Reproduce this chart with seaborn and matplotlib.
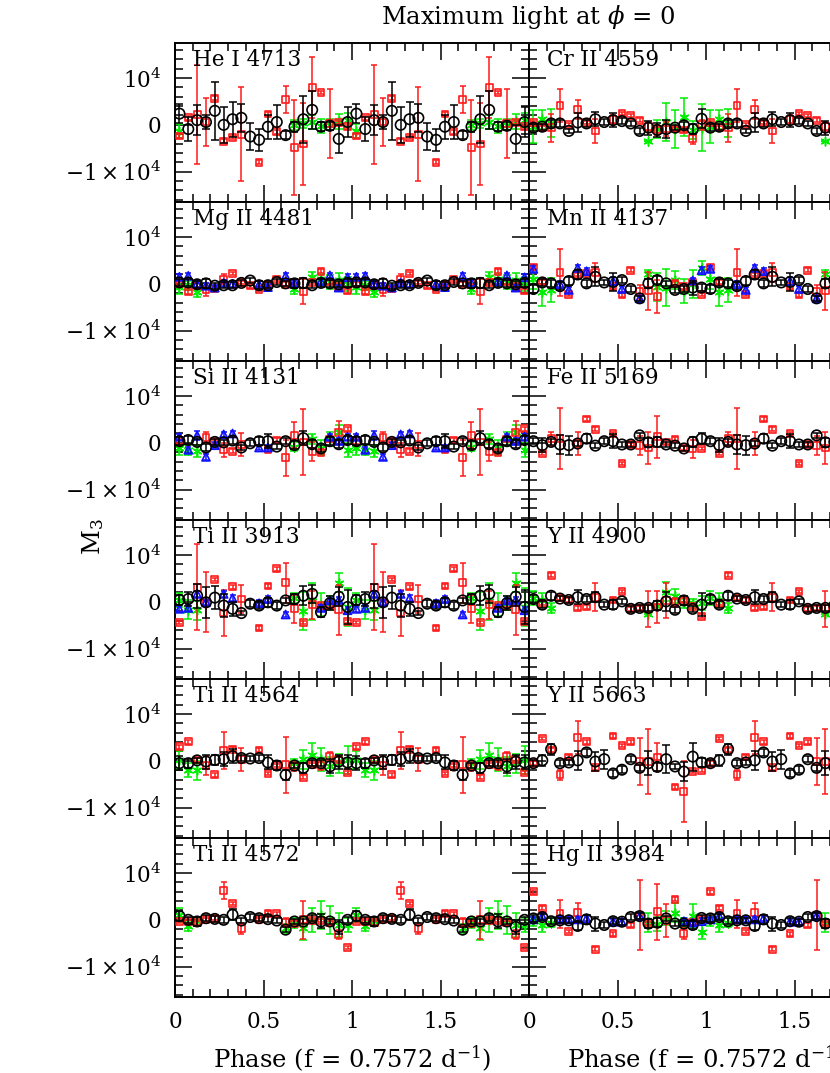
import numpy as np
import pandas as pd
import matplotlib
matplotlib.use("Agg")
import matplotlib.pyplot as plt
from matplotlib.ticker import MultipleLocator, FixedLocator, FuncFormatter
import seaborn as sns

nan = np.nan

# one phase cycle in 20 bins; the figure repeats it over 0..2
PHASE_BINS = np.arange(20) * 0.05 + 0.025
UNIT = 1000.0

# ---- He I 4713
HEI_BLACK = [2.4, -0.9, 1.0, 0.6, 3.0, 0.0, 1.2, 1.5, -2.5, -3.2, -0.4, 0.6, -2.2, -0.4, 1.2, 3.2, -0.4, -0.2, -3.0, 0.6]
HEI_BLACK_ERR = [2.0, 2.5, 3.2, 1.5, 6.2, 3.9, 3.7, 3.0, 2.8, 2.4, 2.6, 3.6, 0.8, 1.1, 5.0, 4.0, 1.0, 0.9, 3.0, 3.2]
HEI_RED = [-2.4, 1.5, 2.2, 0.6, 5.7, -3.5, -2.7, -2.0, nan, -8.0, 2.3, -1.5, 5.4, -4.9, -4.1, 8.0, 6.9, 0.3, 0.5, -0.4]
HEI_RED_ERR = [0.4, 0.4, 10.5, 5.2, 0.4, 0.4, 0.4, 10.0, nan, 0.4, 0.4, 0.4, 2.8, 10.2, 8.7, 6.5, 0.4, 7.3, 0.4, 0.4]
HEI_GREEN = [-1.3, nan, nan, nan, nan, nan, nan, nan, nan, nan, nan, nan, nan, 0.0, 0.3, 0.6, -0.2, 0.0, 0.8, 1.0]
HEI_GREEN_ERR = [1.5, nan, nan, nan, nan, nan, nan, nan, nan, nan, nan, nan, nan, 1.0, 1.0, 1.5, 1.5, 1.2, 1.6, 1.5]

# ---- Cr II 4559
CRII_BLACK = [-0.6, -0.4, 0.3, 0.3, -1.3, 0.5, 0.3, 1.2, 0.6, 1.0, 0.8, 0.3, -1.3, -0.6, -1.1, -0.9, -0.6, -0.1, -0.9, 1.3]
CRII_BLACK_ERR = [0.8, 0.6, 0.8, 0.8, 0.5, 2.0, 0.8, 1.5, 0.6, 1.5, 0.6, 0.6, 0.6, 1.5, 1.5, 2.0, 0.6, 0.8, 1.0, 2.0]
CRII_RED = [0.5, -0.6, -0.6, 4.2, 0.1, 3.3, 0.5, -1.3, nan, 1.2, 2.4, 2.0, 1.0, -0.4, -1.1, -0.9, -0.9, -1.1, -3.0, 0.0]
CRII_RED_ERR = [0.4, 0.4, 3.0, 3.5, 0.4, 2.0, 0.4, 2.5, nan, 1.0, 0.4, 0.4, 0.4, 1.0, 1.0, 1.5, 0.4, 0.4, 1.0, 1.0]
CRII_GREEN = [-0.4, 1.2, 0.3, nan, nan, nan, nan, nan, nan, nan, nan, nan, nan, -3.5, -0.9, 0.6, -0.9, 1.7, -1.1, -0.6]
CRII_GREEN_ERR = [3.5, 2.0, 3.0, nan, nan, nan, nan, nan, nan, nan, nan, nan, nan, 0.0, 2.0, 4.0, 4.0, 4.0, 2.0, 5.0]

# ---- Mg II 4481
MGII_BLACK = [0.3, 0.3, -0.1, 0.1, -0.4, -0.3, -0.3, 0.2, 0.7, -0.3, -0.3, 0.4, 0.1, 0.1, 0.2, -0.3, 0.2, 0.1, -0.1, 0.2]
MGII_BLACK_ERR = [0.8, 0.8, 0.8, 1.0, 0.6, 0.6, 0.6, 0.6, 0.6, 0.8, 0.6, 0.6, 0.6, 1.0, 1.0, 0.6, 0.8, 0.8, 0.6, 0.8]
MGII_RED = [0.0, -1.7, -0.3, -1.3, -1.1, 1.0, 2.2, 0.3, -0.4, -1.2, -0.1, 1.0, -0.1, 0.4, -1.6, 0.3, 2.7, 0.4, -0.6, -1.5]
MGII_RED_ERR = [0.4, 0.4, 0.4, 1.4, 0.4, 1.0, 0.4, 0.4, 0.4, 0.4, 0.4, 0.4, 0.4, 0.4, 2.7, 0.4, 0.4, 0.4, 0.4, 0.4]
MGII_BLUE = [1.5, 1.7, 0.0, -0.4, -0.8, 0.2, 0.0, nan, nan, -0.1, -0.7, nan, 1.7, 0.2, nan, nan, 0.5, 1.8, -0.8, 1.4]
MGII_BLUE_ERR = [0.6, 0.6, 0.6, 0.6, 0.6, 0.6, 0.6, nan, nan, 0.6, 0.6, nan, 0.6, 0.6, nan, nan, 0.6, 0.6, 0.6, 0.6]
MGII_GREEN = [-0.6, -0.3, -1.8, nan, nan, nan, nan, nan, nan, nan, nan, nan, nan, -1.0, nan, 1.5, 1.0, 0.4, 0.8, -0.1]
MGII_GREEN_ERR = [1.5, 1.0, 1.0, nan, nan, nan, nan, nan, nan, nan, nan, nan, nan, 1.2, nan, 1.0, 1.2, 1.5, 1.5, 1.5]

# ---- Mn II 4137
MNII_BLACK = [-1.1, 0.3, 0.1, -0.5, 0.6, 2.0, 0.1, 1.5, 0.3, 0.4, 0.8, -1.1, -3.1, 0.1, 0.8, 0.1, -1.3, -1.1, -0.8, -0.8]
MNII_BLACK_ERR = [0.8, 0.8, 0.8, 0.8, 0.8, 1.0, 0.8, 2.0, 0.6, 2.0, 0.6, 0.6, 0.6, 1.0, 0.8, 0.6, 0.6, 0.6, 1.5, 0.8]
MNII_RED = [3.6, 0.4, nan, 2.4, -2.3, 2.0, 2.2, 2.4, nan, -0.6, -2.4, 2.9, -1.7, -1.5, -2.7, nan, 0.1, -0.6, 0.4, -2.3]
MNII_RED_ERR = [0.4, 0.4, nan, 5.0, 0.4, 0.4, 0.4, 2.0, nan, 0.4, 0.4, 0.4, 1.5, 4.0, 3.5, nan, 0.4, 0.4, 0.4, 0.4]
MNII_BLUE = [3.2, nan, nan, -0.1, -1.3, 3.4, 2.7, nan, nan, 0.6, -1.1, nan, -3.1, nan, nan, nan, nan, nan, 0.7, 2.9]
MNII_BLUE_ERR = [0.6, nan, nan, 0.6, 0.6, 0.6, 0.6, nan, nan, 0.8, 0.6, nan, 0.6, nan, nan, nan, nan, nan, 0.6, 0.6]
MNII_GREEN = [1.0, -1.8, -1.3, nan, nan, nan, nan, nan, nan, nan, nan, nan, nan, 2.0, -0.6, -0.8, 0.8, -1.5, -0.1, 3.4]
MNII_GREEN_ERR = [2.0, 3.0, 2.5, nan, nan, nan, nan, nan, nan, nan, nan, nan, nan, 1.0, 3.0, 4.0, 2.0, 2.5, 3.0, 1.5]

# ---- Si II 4131
SIII_BLACK = [0.35, 0.6, 0.2, -1.0, 0.2, 0.1, 0.5, -1.0, -0.1, 0.35, 0.35, -0.8, 0.35, -0.5, 1.0, -0.3, -1.2, 0.35, -0.3, 0.6]
SIII_BLACK_ERR = [0.8, 0.8, 0.6, 0.8, 0.6, 0.6, 0.8, 0.6, 0.6, 0.8, 1.5, 0.6, 0.6, 0.8, 1.5, 0.8, 0.8, 0.8, 0.8, 0.8]
SIII_RED = [0.2, nan, nan, 1.2, 0.3, -1.5, -1.8, -0.4, nan, nan, -1.5, 0.6, -3.2, 1.6, 0.2, -1.9, -2.0, 0.8, 2.2, 3.0]
SIII_RED_ERR = [0.4, nan, nan, 1.2, 0.4, 1.5, 0.4, 2.5, nan, nan, 0.4, 0.4, 3.8, 2.8, 7.0, 2.0, 0.4, 0.4, 2.5, 0.4]
SIII_BLUE = [1.3, -1.5, 1.6, -3.0, -0.5, 1.8, 2.0, nan, nan, -1.0, -1.0, nan, nan, nan, nan, nan, nan, 1.3, 0.4, 1.3]
SIII_BLUE_ERR = [0.6, 0.6, 1.0, 0.6, 0.6, 0.6, 0.6, nan, nan, 0.6, 0.6, nan, nan, nan, nan, nan, nan, 0.6, 0.6, 0.6]
SIII_GREEN = [-1.0, -1.5, -1.8, nan, nan, nan, nan, nan, nan, nan, nan, nan, nan, -0.8, nan, 0.8, -1.0, 0.8, 2.3, -1.5]
SIII_GREEN_ERR = [1.5, 1.0, 1.3, nan, nan, nan, nan, nan, nan, nan, nan, nan, nan, 1.0, nan, 1.0, 1.5, 1.5, 1.5, 1.5]

# ---- Fe II 5169
FEII_BLACK = [0.35, -0.5, 0.2, -0.35, -0.5, -0.15, 0.9, -0.6, 0.35, 0.35, -0.35, -0.35, 1.6, 0.1, 0.2, -0.35, -0.6, -1.2, 0.2, 0.9]
FEII_BLACK_ERR = [0.6, 1.5, 0.6, 2.0, 2.0, 0.6, 1.0, 0.6, 0.6, 1.5, 0.6, 0.6, 0.6, 1.0, 1.0, 0.6, 0.6, 0.6, 1.0, 1.2]
FEII_RED = [nan, -2.3, 0.9, 0.9, nan, -0.1, 5.1, 2.9, nan, 2.0, -4.4, -0.35, -0.6, -1.1, 1.3, 0.2, 0.8, -1.1, -1.3, -1.2]
FEII_RED_ERR = [nan, 0.4, 1.5, 6.5, nan, 2.5, 0.4, 0.4, nan, 0.4, 0.4, 0.4, 2.0, 3.5, 4.5, 0.4, 0.4, 0.4, 2.0, 0.4]

# ---- Ti II 3913
TI3913_BLACK = [0.4, 0.6, 1.3, -0.1, 0.9, -0.8, -1.5, -2.4, -0.4, -0.8, -0.1, -0.8, 0.3, 0.6, 1.3, 1.7, -2.2, -0.3, 1.1, -1.1]
TI3913_BLACK_ERR = [1.0, 1.5, 2.6, 3.3, 2.4, 2.5, 1.5, 0.5, 0.8, 0.8, 1.0, 0.8, 0.6, 1.0, 2.0, 2.0, 1.0, 1.5, 2.0, 3.6]
TI3913_RED = [-4.4, nan, 3.1, -0.1, 4.8, -2.4, 3.2, 0.6, nan, -5.6, 3.4, 7.1, 4.1, -1.5, -4.4, -0.6, -0.8, -0.8, -1.7, -4.2]
TI3913_RED_ERR = [0.4, nan, 9.2, 6.4, 0.4, 5.0, 0.4, 3.0, nan, 0.4, 0.4, 0.4, 4.3, 3.0, 0.4, 3.0, 0.4, 0.4, 5.3, 0.4]
TI3913_BLUE = [-1.5, -1.3, 1.7, -0.1, nan, 1.7, 0.8, nan, nan, -0.3, 0.6, nan, -2.7, nan, nan, nan, -1.3, 0.3, 0.4, -1.8]
TI3913_BLUE_ERR = [0.6, 0.6, 0.6, 0.6, nan, 0.6, 0.6, nan, nan, 0.6, 0.6, nan, 0.6, nan, nan, nan, 0.6, 0.6, 0.6, 0.6]
TI3913_GREEN = [0.4, -1.7, -1.8, nan, nan, nan, nan, nan, nan, nan, nan, nan, nan, 0.8, -2.0, 0.1, -0.6, -0.3, 4.1, -1.1]
TI3913_GREEN_ERR = [1.5, 2.0, 2.0, nan, nan, nan, nan, nan, nan, nan, nan, nan, nan, 1.0, 4.0, 4.0, 2.5, 1.5, 2.0, 4.0]

# ---- Y II 4900
Y4900_BLACK = [0.6, -0.6, 1.3, 0.7, 0.4, 1.0, 0.6, 1.0, -0.6, -0.6, 0.1, -1.5, -1.3, -1.3, -0.8, 0.1, -1.7, 0.3, -1.5, -0.6]
Y4900_BLACK_ERR = [0.8, 0.8, 0.8, 0.6, 0.6, 1.5, 0.6, 1.0, 0.6, 1.0, 0.6, 0.6, 0.6, 0.6, 1.0, 2.0, 0.6, 1.0, 0.6, 2.5]
Y4900_RED = [nan, -0.3, 5.7, 0.8, 0.4, -1.3, -1.1, 1.0, nan, 0.4, 2.2, -1.5, -1.3, -1.5, -1.1, 0.3, -0.1, 0.4, -1.0, -3.1]
Y4900_RED_ERR = [nan, 0.4, 0.4, 0.4, 0.4, 0.4, 0.4, 3.0, nan, 0.4, 0.4, 0.4, 0.4, 3.8, 3.5, 3.8, 1.0, 0.4, 0.4, 0.4]
Y4900_GREEN = [0.8, 0.4, -1.3, nan, nan, nan, nan, nan, nan, nan, nan, nan, nan, -2.7, -0.8, 2.2, 1.3, -0.3, -0.3, -0.3]
Y4900_GREEN_ERR = [1.5, 1.5, 1.0, nan, nan, nan, nan, nan, nan, nan, nan, nan, nan, 0.0, 1.0, 2.0, 1.5, 1.0, 1.0, 1.5]

# ---- Ti II 4564
TI4564_BLACK = [-0.5, -0.5, 0.1, -0.15, 0.2, 0.35, 1.0, 0.6, 0.5, 0.6, -0.35, -1.0, -3.0, -1.0, -1.5, -0.5, -0.5, -1.2, -0.15, -0.35]
TI4564_BLACK_ERR = [1.5, 1.0, 0.6, 1.5, 1.0, 1.5, 1.5, 0.6, 0.6, 0.6, 1.5, 1.0, 1.0, 0.6, 1.0, 0.6, 0.6, 1.5, 1.5, 1.5]
TI4564_RED = [3.0, 4.1, 0.2, -1.0, -3.0, 2.2, 2.5, 0.35, nan, 2.3, -2.7, -1.0, -0.8, -1.2, -3.5, -0.8, -1.0, 0.9, 0.35, -2.5]
TI4564_RED_ERR = [0.4, 0.4, 0.4, 2.0, 0.4, 4.0, 0.4, 2.5, nan, 0.4, 0.4, 0.4, 6.0, 1.0, 0.4, 0.4, 1.0, 1.0, 0.4, 0.4]
TI4564_GREEN = [0.2, -2.0, -2.0, nan, nan, nan, nan, nan, nan, nan, nan, nan, nan, -0.5, 0.35, 1.3, 0.35, -1.2, -0.5, 0.2]
TI4564_GREEN_ERR = [2.0, 1.5, 2.0, nan, nan, nan, nan, nan, nan, nan, nan, nan, nan, 1.0, 2.0, 2.5, 2.5, 2.0, 2.0, 3.0]

# ---- Y II 5663
Y5663_BLACK = [-0.5, 0.1, 2.5, -0.5, -0.35, 0.1, 1.8, -0.15, 0.35, -2.7, -1.9, 0.35, -1.5, -0.5, -1.3, 0.35, -1.2, -2.3, 0.9, -0.35]
Y5663_BLACK_ERR = [0.6, 1.2, 1.2, 0.6, 0.6, 2.0, 0.8, 2.0, 2.0, 0.8, 0.8, 0.6, 0.6, 2.5, 0.8, 3.0, 0.6, 2.0, 3.0, 1.0]
Y5663_RED = [-0.5, 4.8, 2.3, -3.0, 0.8, 5.0, 4.1, -1.5, nan, 5.3, 3.3, 4.1, -0.1, -0.1, 0.8, nan, -5.6, -6.5, -2.3, -2.0]
Y5663_RED_ERR = [0.4, 0.4, 0.4, 1.0, 0.4, 3.6, 0.4, 0.4, nan, 0.4, 0.4, 0.4, 5.0, 7.0, 3.0, nan, 0.4, 6.5, 0.4, 0.4]

# ---- Ti II 4572
TI4572_BLACK = [0.8, 0.0, -0.35, 0.35, 0.2, 0.0, 1.1, -0.15, 0.6, 0.35, 0.15, -0.15, -2.1, -0.35, -0.35, 0.35, -0.35, -0.35, -1.5, 0.0]
TI4572_BLACK_ERR = [1.0, 0.6, 1.0, 0.6, 0.6, 0.6, 1.2, 0.6, 0.6, 0.6, 0.6, 0.6, 0.6, 0.6, 0.6, 0.6, 1.5, 0.6, 1.5, 0.6]
TI4572_RED = [-0.35, -0.35, -0.6, 0.0, 0.35, 6.2, 3.5, -1.8, nan, 0.0, 1.4, 1.3, -0.6, -0.7, 0.0, -0.15, -0.15, -0.6, -3.2, -5.9]
TI4572_RED_ERR = [0.4, 0.4, 0.4, 0.4, 0.4, 1.8, 0.4, 1.2, nan, 0.4, 0.4, 0.4, 1.0, 0.4, 4.0, 0.4, 0.4, 0.4, 1.0, 0.4]
TI4572_GREEN = [1.1, -1.4, -0.35, nan, nan, nan, nan, nan, nan, nan, nan, nan, -1.8, -0.7, -1.8, 0.0, 1.1, 0.0, -1.1, -1.1]
TI4572_GREEN_ERR = [1.5, 1.0, 0.8, nan, nan, nan, nan, nan, nan, nan, nan, nan, 1.0, 1.0, 2.5, 2.5, 3.0, 3.0, 2.5, 1.5]

# ---- Hg II 3984
HGII_BLACK = [0.3, 0.6, -0.3, -0.1, -0.1, -1.3, 0.1, -0.8, -1.1, -0.3, -0.4, 0.6, 0.8, -0.8, -0.6, 0.3, -0.8, -0.8, -1.1, 0.4]
HGII_BLACK_ERR = [0.8, 0.6, 0.6, 0.6, 0.6, 0.8, 1.0, 1.5, 0.6, 0.6, 0.6, 0.6, 0.6, 1.0, 1.0, 0.6, 0.6, 0.6, 0.8, 0.6]
HGII_RED = [6.0, 2.5, nan, 1.3, -2.5, 1.5, nan, -6.3, nan, -3.0, nan, -1.1, 1.0, -0.8, 1.7, -0.1, 4.4, -3.0, -0.6, 0.1]
HGII_RED_ERR = [0.4, 0.4, nan, 3.0, 0.4, 2.0, nan, 0.4, nan, 0.4, nan, 0.4, 7.5, 0.4, 6.0, 3.5, 0.4, 1.2, 0.4, 0.4]
HGII_BLUE = [0.1, 0.8, nan, 0.1, 0.1, 0.1, 0.3, nan, nan, -0.4, -0.4, nan, 0.8, nan, nan, nan, nan, -0.3, -0.6, -0.3]
HGII_BLUE_ERR = [0.6, 0.6, nan, 0.6, 0.6, 0.6, 0.6, nan, nan, 0.6, 0.6, nan, 0.6, nan, nan, nan, nan, 0.6, 0.6, 0.6]
HGII_GREEN = [-0.3, -1.1, -0.6, nan, nan, nan, nan, nan, nan, nan, nan, nan, nan, -0.6, -0.8, 0.4, 1.5, -0.6, 0.8, -2.5]
HGII_GREEN_ERR = [1.0, 1.5, 1.0, nan, nan, nan, nan, nan, nan, nan, nan, nan, nan, 2.0, 1.5, 1.5, 2.0, 1.0, 2.5, 1.5]

# (label, row, column, {series: (values, errors)})
PANELS = [
    ("He I 4713", 0, 0, {"green": (HEI_GREEN, HEI_GREEN_ERR), "red": (HEI_RED, HEI_RED_ERR),
                         "black": (HEI_BLACK, HEI_BLACK_ERR)}),
    ("Cr II 4559", 0, 1, {"green": (CRII_GREEN, CRII_GREEN_ERR), "red": (CRII_RED, CRII_RED_ERR),
                          "black": (CRII_BLACK, CRII_BLACK_ERR)}),
    ("Mg II 4481", 1, 0, {"green": (MGII_GREEN, MGII_GREEN_ERR), "red": (MGII_RED, MGII_RED_ERR),
                          "blue": (MGII_BLUE, MGII_BLUE_ERR), "black": (MGII_BLACK, MGII_BLACK_ERR)}),
    ("Mn II 4137", 1, 1, {"green": (MNII_GREEN, MNII_GREEN_ERR), "red": (MNII_RED, MNII_RED_ERR),
                          "blue": (MNII_BLUE, MNII_BLUE_ERR), "black": (MNII_BLACK, MNII_BLACK_ERR)}),
    ("Si II 4131", 2, 0, {"green": (SIII_GREEN, SIII_GREEN_ERR), "red": (SIII_RED, SIII_RED_ERR),
                          "blue": (SIII_BLUE, SIII_BLUE_ERR), "black": (SIII_BLACK, SIII_BLACK_ERR)}),
    ("Fe II 5169", 2, 1, {"red": (FEII_RED, FEII_RED_ERR), "black": (FEII_BLACK, FEII_BLACK_ERR)}),
    ("Ti II 3913", 3, 0, {"green": (TI3913_GREEN, TI3913_GREEN_ERR), "red": (TI3913_RED, TI3913_RED_ERR),
                          "blue": (TI3913_BLUE, TI3913_BLUE_ERR), "black": (TI3913_BLACK, TI3913_BLACK_ERR)}),
    ("Y II 4900", 3, 1, {"green": (Y4900_GREEN, Y4900_GREEN_ERR), "red": (Y4900_RED, Y4900_RED_ERR),
                         "black": (Y4900_BLACK, Y4900_BLACK_ERR)}),
    ("Ti II 4564", 4, 0, {"green": (TI4564_GREEN, TI4564_GREEN_ERR), "red": (TI4564_RED, TI4564_RED_ERR),
                          "black": (TI4564_BLACK, TI4564_BLACK_ERR)}),
    ("Y II 5663", 4, 1, {"red": (Y5663_RED, Y5663_RED_ERR), "black": (Y5663_BLACK, Y5663_BLACK_ERR)}),
    ("Ti II 4572", 5, 0, {"green": (TI4572_GREEN, TI4572_GREEN_ERR), "red": (TI4572_RED, TI4572_RED_ERR),
                          "black": (TI4572_BLACK, TI4572_BLACK_ERR)}),
    ("Hg II 3984", 5, 1, {"green": (HGII_GREEN, HGII_GREEN_ERR), "red": (HGII_RED, HGII_RED_ERR),
                          "blue": (HGII_BLUE, HGII_BLUE_ERR), "black": (HGII_BLACK, HGII_BLACK_ERR)}),
]

# marker, colour, marker area, cap size, zorder
SERIES_STYLE = {
    "green": ((6, 2, 0), "#00ee00", 40, 3.0, 2),
    "red": ("s", "#ff1a1a", 24, 2.5, 3),
    "blue": ("^", "#1010ff", 34, 2.5, 4),
    "black": ("o", "black", 56, 3.0, 5),
}

sns.set_theme(style="ticks")
plt.rcParams["font.family"] = ["DejaVu Serif"]
plt.rcParams["mathtext.fontset"] = "dejavuserif"
plt.rcParams["text.color"] = "black"
plt.rcParams["axes.labelcolor"] = "black"

FS = 15.5
FS_BIG = 17.5
W, H = 830, 1073
fig = plt.figure(figsize=(W / 100, H / 100), dpi=100)


def panel_axes(row, col):
    x0 = 175 if col == 0 else 529
    top = 43 + 159 * row
    return fig.add_axes([x0 / W, 1 - (top + 159) / H, 354 / W, 159 / H])


def draw_series(ax, vals, errs, key):
    marker, color, size, cap, z = SERIES_STYLE[key]
    v = np.asarray(vals, dtype=float) * UNIT
    e = np.asarray(errs, dtype=float) * UNIT
    df = pd.DataFrame({
        "phase": np.concatenate([PHASE_BINS, PHASE_BINS + 1]),
        "m3": np.tile(v, 2),
        "err": np.tile(e, 2),
    }).dropna()
    ax.errorbar(df["phase"], df["m3"], yerr=df["err"], fmt="none", ecolor=color,
                elinewidth=1.1, capsize=cap, capthick=1.1, zorder=z)
    if key == "green":
        sns.scatterplot(data=df, x="phase", y="m3", ax=ax, marker=marker, color=color,
                        s=size, linewidth=1.1, zorder=z + 0.5)
    else:
        sns.scatterplot(data=df, x="phase", y="m3", ax=ax, marker=marker, facecolor="none",
                        edgecolor=color, s=size, linewidth=1.2, zorder=z + 0.5)


def phase_label(x, pos):
    if abs(x - 2) < 1e-6:
        return ""
    return f"{x:g}"


for label, row, col, series in PANELS:
    ax = panel_axes(row, col)
    for key in ["green", "red", "blue", "black"]:
        if key in series:
            draw_series(ax, *series[key], key)

    ax.set_xlim(0, 2)
    ax.set_ylim(-16500, 17500)
    ax.xaxis.set_major_locator(MultipleLocator(0.5))
    ax.xaxis.set_minor_locator(MultipleLocator(0.1))
    ax.xaxis.set_major_formatter(FuncFormatter(phase_label))
    ax.yaxis.set_major_locator(FixedLocator([-10000, 0, 10000]))
    ax.yaxis.set_minor_locator(MultipleLocator(2000))
    ax.set_yticklabels([r"$-1\times10^4$", "0", r"$10^4$"])
    ax.tick_params(which="both", direction="in", top=True, right=True, width=1.1,
                   colors="black", labelsize=FS)
    ax.tick_params(which="major", length=12, pad=10)
    ax.tick_params(which="minor", length=6)
    ax.tick_params(axis="y", labelleft=(col == 0))
    ax.tick_params(axis="x", labelbottom=(row == 5))
    for sp in ax.spines.values():
        sp.set_linewidth(1.4)
        sp.set_color("black")
    ax.set_facecolor("white")
    ax.set_ylabel("")
    ax.set_xlabel(r"Phase (f = 0.7572 d$^{-1}$)" if row == 5 else "", fontsize=FS_BIG, labelpad=8)
    ax.text(0.052, 0.96, label, transform=ax.transAxes, ha="left", va="top", fontsize=FS)

fig.text(528 / W, 1 - 17 / H, r"Maximum light at $\phi$ = 0", ha="center", va="center", fontsize=FS_BIG)
fig.text(93 / W, 1 - 537 / H, r"M$_3$", ha="center", va="center", rotation=90, fontsize=FS_BIG)

fig.savefig("out.png", dpi=100)
